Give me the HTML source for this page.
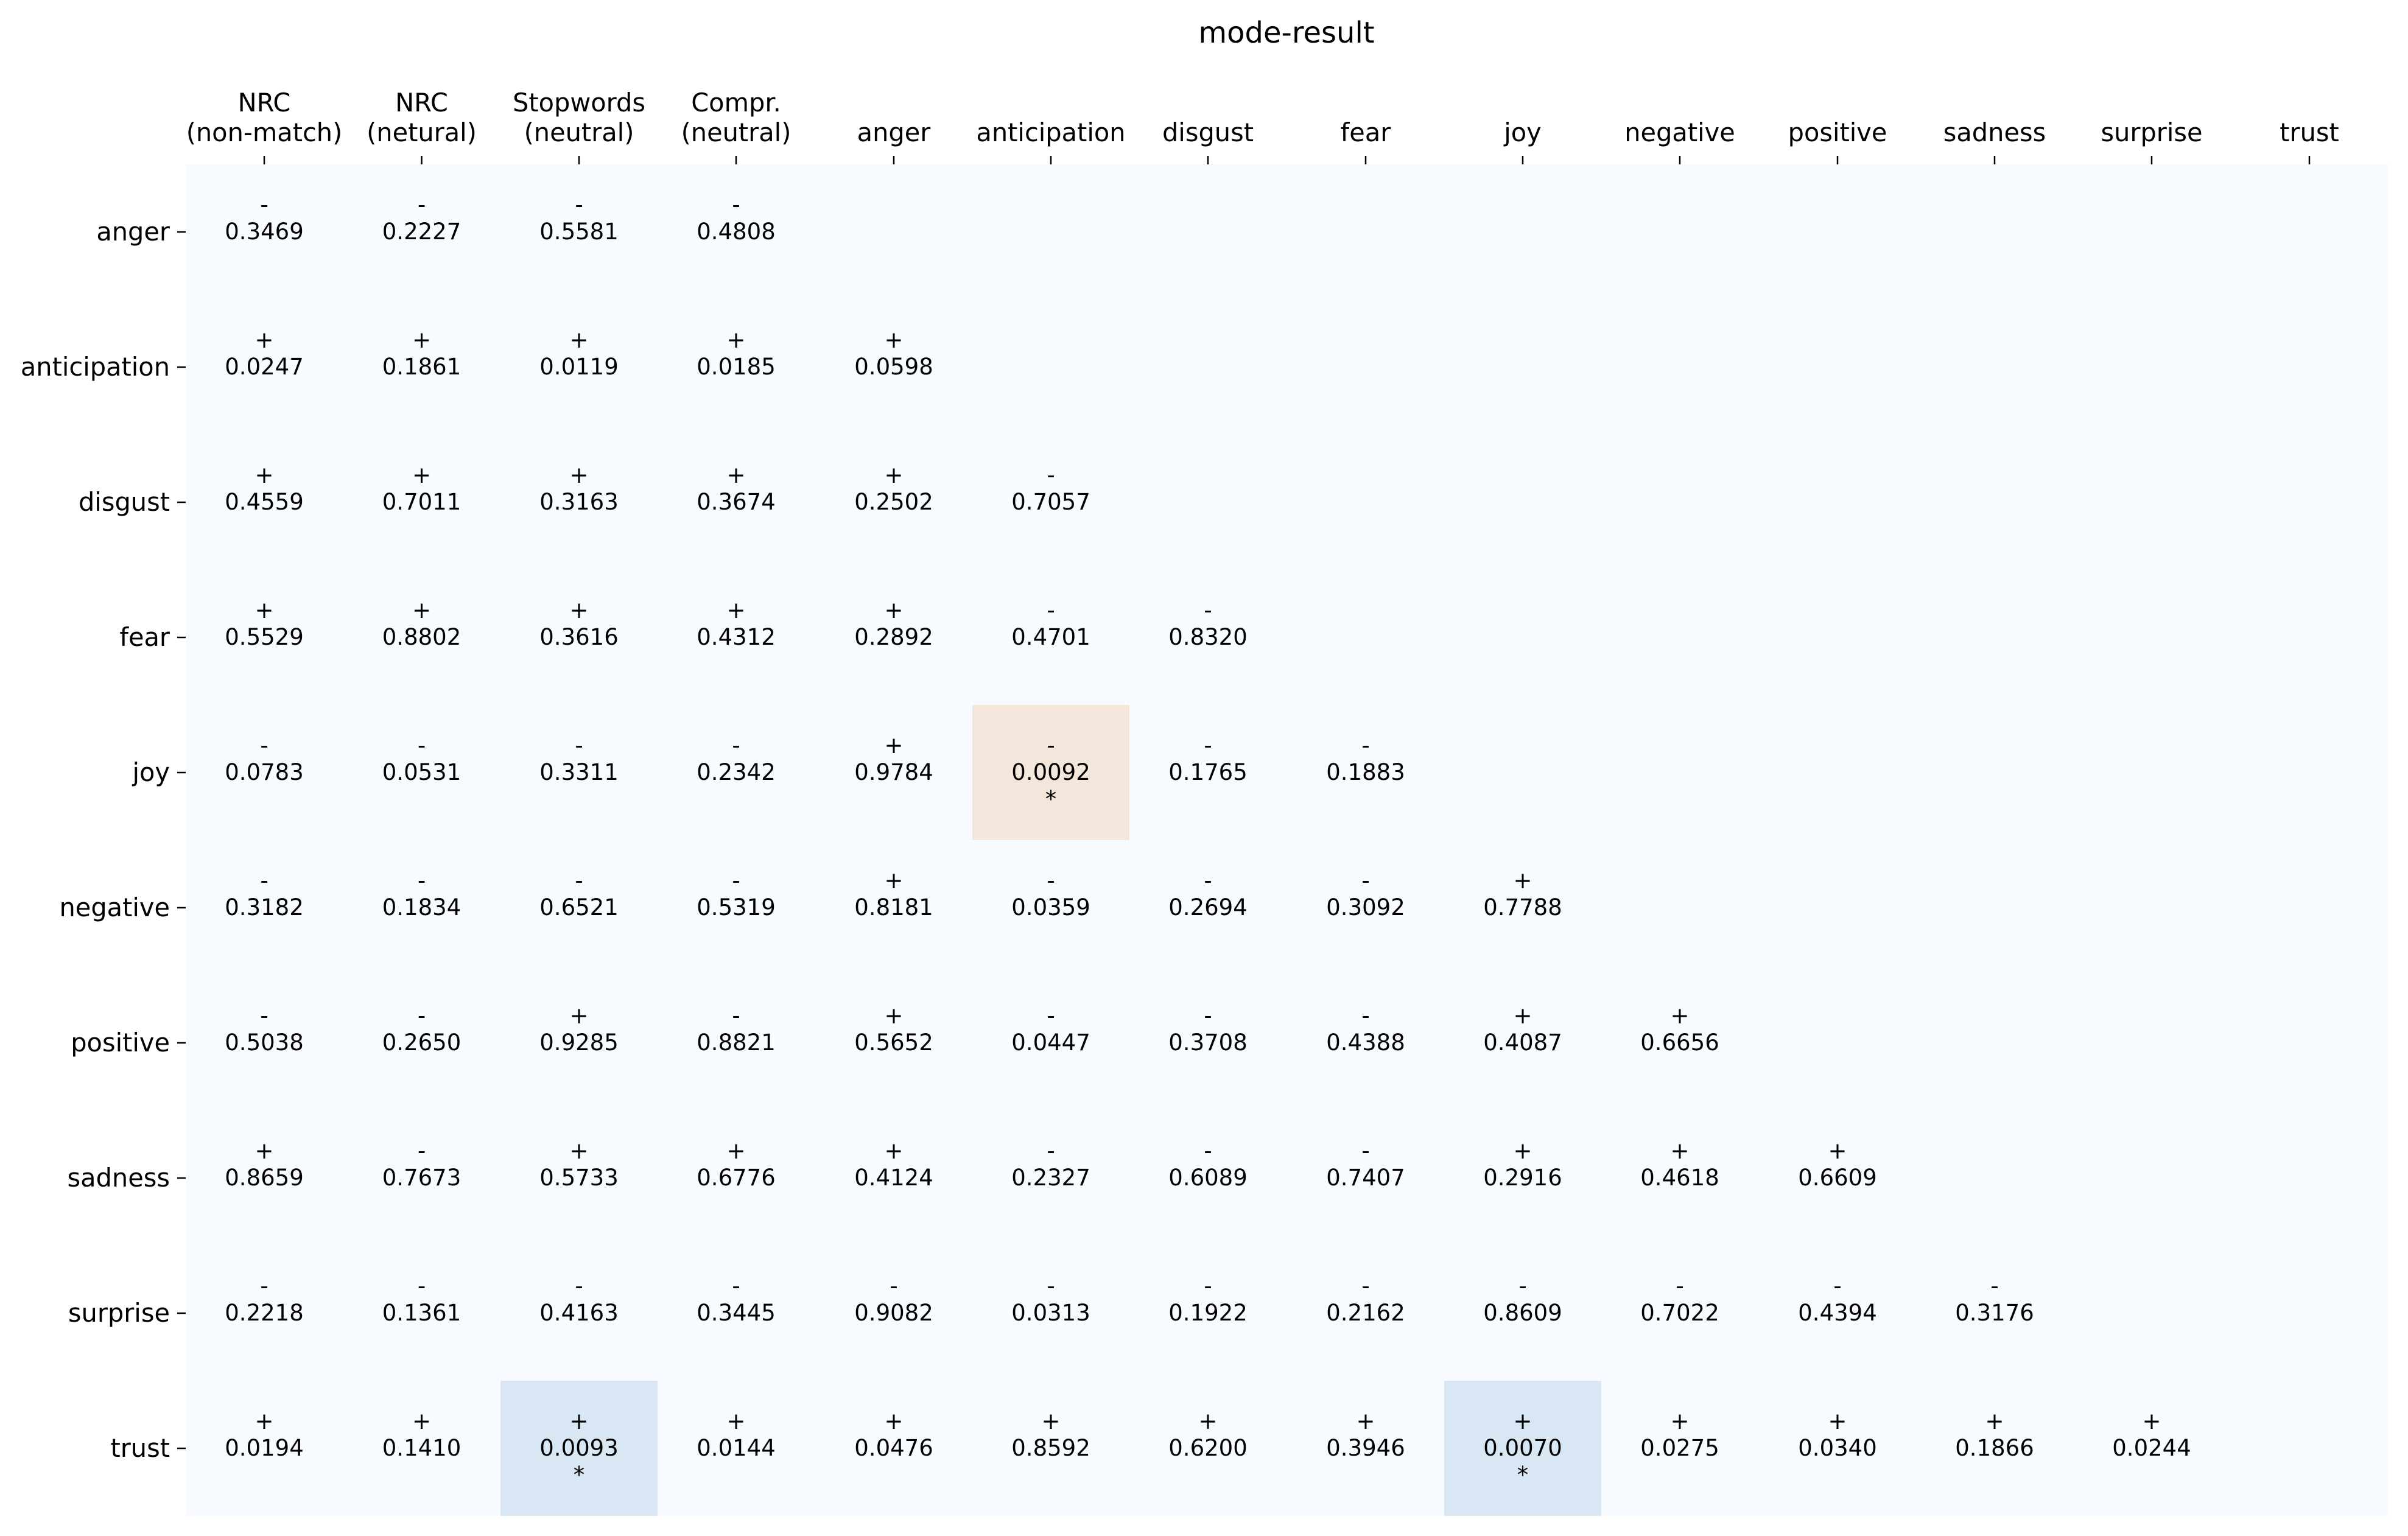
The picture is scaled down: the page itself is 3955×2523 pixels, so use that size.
<!DOCTYPE html>
<html><head><meta charset="utf-8"><style>
html,body{margin:0;padding:0;background:#fff;}
svg{display:block;}
text{font-family:"DejaVu Sans","Liberation Sans",sans-serif;font-size:37px;fill:#000;text-anchor:middle;}
.lab{font-size:41.5px;}
.rl{text-anchor:end;font-size:41.5px;}
.t{font-size:48px;}
</style></head><body>
<svg width="3955" height="2523" viewBox="0 0 3955 2523" xmlns="http://www.w3.org/2000/svg">
<rect x="305" y="270" width="3617" height="2220" fill="#f7fbff"/>
<rect x="1597" y="1158" width="258" height="222" fill="#f2e7da"/>
<rect x="822" y="2268" width="258" height="222" fill="#d9e6f3"/>
<rect x="2372" y="2268" width="258" height="222" fill="#d9e6f3"/>
<text class="t" x="2113" y="70">mode-result</text>
<g stroke="#000" stroke-width="2.5">
<line x1="434" y1="256" x2="434" y2="270"/><line x1="692.5" y1="256" x2="692.5" y2="270"/><line x1="951" y1="256" x2="951" y2="270"/><line x1="1209" y1="256" x2="1209" y2="270"/><line x1="1468" y1="256" x2="1468" y2="270"/><line x1="1726" y1="256" x2="1726" y2="270"/><line x1="1984" y1="256" x2="1984" y2="270"/><line x1="2243" y1="256" x2="2243" y2="270"/><line x1="2501" y1="256" x2="2501" y2="270"/><line x1="2759" y1="256" x2="2759" y2="270"/><line x1="3018" y1="256" x2="3018" y2="270"/><line x1="3276" y1="256" x2="3276" y2="270"/><line x1="3534" y1="256" x2="3534" y2="270"/><line x1="3793" y1="256" x2="3793" y2="270"/>
<line x1="291" y1="381" x2="305" y2="381"/><line x1="291" y1="603" x2="305" y2="603"/><line x1="291" y1="825" x2="305" y2="825"/><line x1="291" y1="1047" x2="305" y2="1047"/><line x1="291" y1="1269" x2="305" y2="1269"/><line x1="291" y1="1491" x2="305" y2="1491"/><line x1="291" y1="1713" x2="305" y2="1713"/><line x1="291" y1="1935" x2="305" y2="1935"/><line x1="291" y1="2157" x2="305" y2="2157"/><line x1="291" y1="2379" x2="305" y2="2379"/>
</g>
<g class="lab">
<text class="lab" x="434" y="183">NRC</text><text class="lab" x="434" y="232">(non-match)</text>
<text class="lab" x="692.5" y="183">NRC</text><text class="lab" x="692.5" y="232">(netural)</text>
<text class="lab" x="951" y="183">Stopwords</text><text class="lab" x="951" y="232">(neutral)</text>
<text class="lab" x="1209" y="183">Compr.</text><text class="lab" x="1209" y="232">(neutral)</text>
<text class="lab" x="1468" y="232">anger</text><text class="lab" x="1726" y="232">anticipation</text><text class="lab" x="1984" y="232">disgust</text><text class="lab" x="2243" y="232">fear</text><text class="lab" x="2501" y="232">joy</text><text class="lab" x="2759" y="232">negative</text><text class="lab" x="3018" y="232">positive</text><text class="lab" x="3276" y="232">sadness</text><text class="lab" x="3534" y="232">surprise</text><text class="lab" x="3793" y="232">trust</text>
</g>
<text class="rl" x="279" y="395">anger</text>
<text class="rl" x="279" y="617">anticipation</text>
<text class="rl" x="279" y="839">disgust</text>
<text class="rl" x="279" y="1061">fear</text>
<text class="rl" x="279" y="1283">joy</text>
<text class="rl" x="279" y="1505">negative</text>
<text class="rl" x="279" y="1727">positive</text>
<text class="rl" x="279" y="1949">sadness</text>
<text class="rl" x="279" y="2171">surprise</text>
<text class="rl" x="279" y="2393">trust</text>

<g transform="translate(0,381)">
<text x="434" y="-32">-</text><text x="434" y="12">0.3469</text>
<text x="692.5" y="-32">-</text><text x="692.5" y="12">0.2227</text>
<text x="951" y="-32">-</text><text x="951" y="12">0.5581</text>
<text x="1209" y="-32">-</text><text x="1209" y="12">0.4808</text>
</g>
<g transform="translate(0,603)">
<text x="434" y="-32">+</text><text x="434" y="12">0.0247</text>
<text x="692.5" y="-32">+</text><text x="692.5" y="12">0.1861</text>
<text x="951" y="-32">+</text><text x="951" y="12">0.0119</text>
<text x="1209" y="-32">+</text><text x="1209" y="12">0.0185</text>
<text x="1468" y="-32">+</text><text x="1468" y="12">0.0598</text>
</g>
<g transform="translate(0,825)">
<text x="434" y="-32">+</text><text x="434" y="12">0.4559</text>
<text x="692.5" y="-32">+</text><text x="692.5" y="12">0.7011</text>
<text x="951" y="-32">+</text><text x="951" y="12">0.3163</text>
<text x="1209" y="-32">+</text><text x="1209" y="12">0.3674</text>
<text x="1468" y="-32">+</text><text x="1468" y="12">0.2502</text>
<text x="1726" y="-32">-</text><text x="1726" y="12">0.7057</text>
</g>
<g transform="translate(0,1047)">
<text x="434" y="-32">+</text><text x="434" y="12">0.5529</text>
<text x="692.5" y="-32">+</text><text x="692.5" y="12">0.8802</text>
<text x="951" y="-32">+</text><text x="951" y="12">0.3616</text>
<text x="1209" y="-32">+</text><text x="1209" y="12">0.4312</text>
<text x="1468" y="-32">+</text><text x="1468" y="12">0.2892</text>
<text x="1726" y="-32">-</text><text x="1726" y="12">0.4701</text>
<text x="1984" y="-32">-</text><text x="1984" y="12">0.8320</text>
</g>
<g transform="translate(0,1269)">
<text x="434" y="-32">-</text><text x="434" y="12">0.0783</text>
<text x="692.5" y="-32">-</text><text x="692.5" y="12">0.0531</text>
<text x="951" y="-32">-</text><text x="951" y="12">0.3311</text>
<text x="1209" y="-32">-</text><text x="1209" y="12">0.2342</text>
<text x="1468" y="-32">+</text><text x="1468" y="12">0.9784</text>
<text x="1726" y="-32">-</text><text x="1726" y="12">0.0092</text><text x="1726" y="56">*</text>
<text x="1984" y="-32">-</text><text x="1984" y="12">0.1765</text>
<text x="2243" y="-32">-</text><text x="2243" y="12">0.1883</text>
</g>
<g transform="translate(0,1491)">
<text x="434" y="-32">-</text><text x="434" y="12">0.3182</text>
<text x="692.5" y="-32">-</text><text x="692.5" y="12">0.1834</text>
<text x="951" y="-32">-</text><text x="951" y="12">0.6521</text>
<text x="1209" y="-32">-</text><text x="1209" y="12">0.5319</text>
<text x="1468" y="-32">+</text><text x="1468" y="12">0.8181</text>
<text x="1726" y="-32">-</text><text x="1726" y="12">0.0359</text>
<text x="1984" y="-32">-</text><text x="1984" y="12">0.2694</text>
<text x="2243" y="-32">-</text><text x="2243" y="12">0.3092</text>
<text x="2501" y="-32">+</text><text x="2501" y="12">0.7788</text>
</g>
<g transform="translate(0,1713)">
<text x="434" y="-32">-</text><text x="434" y="12">0.5038</text>
<text x="692.5" y="-32">-</text><text x="692.5" y="12">0.2650</text>
<text x="951" y="-32">+</text><text x="951" y="12">0.9285</text>
<text x="1209" y="-32">-</text><text x="1209" y="12">0.8821</text>
<text x="1468" y="-32">+</text><text x="1468" y="12">0.5652</text>
<text x="1726" y="-32">-</text><text x="1726" y="12">0.0447</text>
<text x="1984" y="-32">-</text><text x="1984" y="12">0.3708</text>
<text x="2243" y="-32">-</text><text x="2243" y="12">0.4388</text>
<text x="2501" y="-32">+</text><text x="2501" y="12">0.4087</text>
<text x="2759" y="-32">+</text><text x="2759" y="12">0.6656</text>
</g>
<g transform="translate(0,1935)">
<text x="434" y="-32">+</text><text x="434" y="12">0.8659</text>
<text x="692.5" y="-32">-</text><text x="692.5" y="12">0.7673</text>
<text x="951" y="-32">+</text><text x="951" y="12">0.5733</text>
<text x="1209" y="-32">+</text><text x="1209" y="12">0.6776</text>
<text x="1468" y="-32">+</text><text x="1468" y="12">0.4124</text>
<text x="1726" y="-32">-</text><text x="1726" y="12">0.2327</text>
<text x="1984" y="-32">-</text><text x="1984" y="12">0.6089</text>
<text x="2243" y="-32">-</text><text x="2243" y="12">0.7407</text>
<text x="2501" y="-32">+</text><text x="2501" y="12">0.2916</text>
<text x="2759" y="-32">+</text><text x="2759" y="12">0.4618</text>
<text x="3018" y="-32">+</text><text x="3018" y="12">0.6609</text>
</g>
<g transform="translate(0,2157)">
<text x="434" y="-32">-</text><text x="434" y="12">0.2218</text>
<text x="692.5" y="-32">-</text><text x="692.5" y="12">0.1361</text>
<text x="951" y="-32">-</text><text x="951" y="12">0.4163</text>
<text x="1209" y="-32">-</text><text x="1209" y="12">0.3445</text>
<text x="1468" y="-32">-</text><text x="1468" y="12">0.9082</text>
<text x="1726" y="-32">-</text><text x="1726" y="12">0.0313</text>
<text x="1984" y="-32">-</text><text x="1984" y="12">0.1922</text>
<text x="2243" y="-32">-</text><text x="2243" y="12">0.2162</text>
<text x="2501" y="-32">-</text><text x="2501" y="12">0.8609</text>
<text x="2759" y="-32">-</text><text x="2759" y="12">0.7022</text>
<text x="3018" y="-32">-</text><text x="3018" y="12">0.4394</text>
<text x="3276" y="-32">-</text><text x="3276" y="12">0.3176</text>
</g>
<g transform="translate(0,2379)">
<text x="434" y="-32">+</text><text x="434" y="12">0.0194</text>
<text x="692.5" y="-32">+</text><text x="692.5" y="12">0.1410</text>
<text x="951" y="-32">+</text><text x="951" y="12">0.0093</text><text x="951" y="56">*</text>
<text x="1209" y="-32">+</text><text x="1209" y="12">0.0144</text>
<text x="1468" y="-32">+</text><text x="1468" y="12">0.0476</text>
<text x="1726" y="-32">+</text><text x="1726" y="12">0.8592</text>
<text x="1984" y="-32">+</text><text x="1984" y="12">0.6200</text>
<text x="2243" y="-32">+</text><text x="2243" y="12">0.3946</text>
<text x="2501" y="-32">+</text><text x="2501" y="12">0.0070</text><text x="2501" y="56">*</text>
<text x="2759" y="-32">+</text><text x="2759" y="12">0.0275</text>
<text x="3018" y="-32">+</text><text x="3018" y="12">0.0340</text>
<text x="3276" y="-32">+</text><text x="3276" y="12">0.1866</text>
<text x="3534" y="-32">+</text><text x="3534" y="12">0.0244</text>
</g>
</svg>
</body></html>
